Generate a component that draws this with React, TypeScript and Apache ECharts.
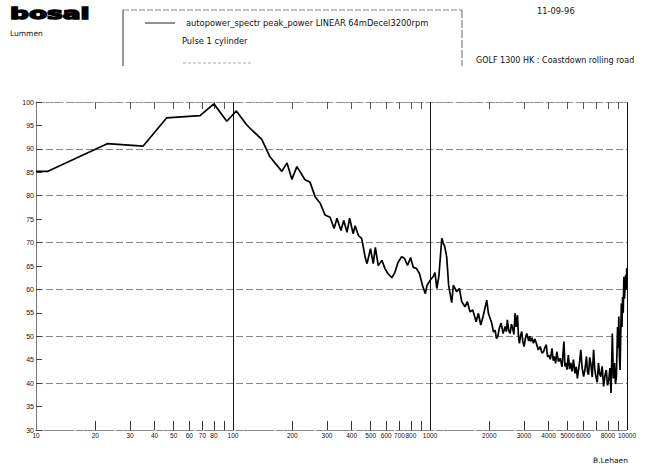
import React, { useEffect, useRef } from "react";
import * as echarts from "echarts";

const freq = [
  10, 11.5, 23, 35, 46, 68, 80, 93, 104, 117, 122, 140, 154, 177, 188, 199, 211, 232, 246, 261,
  277, 293, 311, 326, 337, 353, 365, 379, 391, 407, 417, 433, 450, 469, 479, 499, 515, 528, 546, 570,
  590, 611, 640, 663, 687, 718, 743, 769, 797, 823, 853, 884, 917, 947, 965, 1000, 1036, 1060, 1083, 1109,
  1148, 1165, 1187, 1215, 1244, 1289, 1314, 1366, 1410, 1449, 1506, 1548, 1597, 1648, 1714, 1761, 1810, 1866, 1941, 1979,
  2058, 2100, 2140, 2175, 2208, 2250, 2296, 2350, 2408, 2440, 2470, 2510, 2551, 2590, 2629, 2665, 2704, 2740, 2781, 2810,
  2844, 2880, 2921, 2960, 3004, 3050, 3098, 3170, 3210, 3248, 3300, 3349, 3410, 3484, 3550, 3625, 3700, 3771, 3830, 3894,
  3950, 4003, 4080, 4165, 4220, 4277, 4340, 4403, 4490, 4579, 4680, 4784, 4840, 4893, 4960, 5038, 5110, 5183, 5260, 5348,
  5440, 5526, 5600, 5672, 5750, 5827, 5920, 6024, 6120, 6228, 6300, 6378, 6470, 6563, 6660, 6768, 6860, 6953, 7060, 7165,
  7260, 7362, 7480, 7609, 7730, 7851, 7960, 8082, 8190, 8297, 8360, 8424, 8530, 8641, 8740, 8829, 8900, 8957, 9020, 9088,
  9150, 9222, 9290, 9359, 9430, 9499, 9570, 9640, 9710, 9784, 9852, 9929, 9970, 10000,
];

const level = [
  85.2, 85.2, 91.1, 90.6, 96.6, 97.1, 99.6, 95.9, 98.1, 95.2, 94.4, 92.0, 88.3, 85.2, 87.0, 83.5, 86.2, 83.4, 82.9, 79.8,
  78.4, 75.9, 75.4, 73.0, 75.2, 72.6, 74.7, 72.2, 75.2, 71.9, 73.6, 71.5, 70.9, 66.8, 65.5, 68.7, 65.5, 69.0, 65.1, 66.2,
  64.5, 63.4, 62.5, 63.6, 65.7, 67.0, 66.6, 65.1, 66.8, 64.7, 64.5, 63.4, 60.8, 59.1, 60.8, 61.9, 62.7, 63.6, 60.2, 62.8,
  70.9, 70.0, 69.2, 67.0, 60.8, 57.2, 60.9, 59.5, 60.2, 57.4, 56.3, 57.4, 55.2, 55.6, 53.1, 54.9, 52.4, 54.5, 57.7, 54.9,
  52.8, 50.9, 51.3, 49.5, 49.9, 51.8, 52.8, 50.6, 52.1, 51.0, 53.5, 51.2, 50.6, 52.6, 51.7, 50.4, 54.9, 52.0, 54.5, 50.2,
  48.5, 50.1, 51.0, 48.9, 47.8, 49.6, 50.6, 49.0, 50.0, 48.9, 49.7, 48.5, 49.4, 48.2, 47.1, 47.8, 46.4, 46.7, 47.6, 48.2,
  45.6, 46.0, 45.1, 47.4, 44.8, 45.7, 44.2, 46.7, 44.6, 45.3, 43.5, 48.9, 43.6, 44.3, 42.9, 46.0, 43.0, 44.3, 42.5, 45.0,
  42.1, 43.5, 41.0, 42.8, 44.6, 47.1, 43.2, 41.4, 43.0, 45.7, 42.4, 41.8, 45.5, 43.9, 41.3, 47.1, 43.0, 41.4, 40.2, 44.3,
  42.0, 41.4, 43.6, 39.3, 41.6, 42.8, 39.5, 40.7, 43.2, 37.9, 44.0, 50.6, 41.0, 44.3, 39.8, 41.4, 47.0, 52.0, 47.5, 54.2,
  46.0, 42.8, 50.0, 57.0, 52.0, 58.4, 55.0, 62.7, 58.0, 60.6, 63.1, 59.9, 64.5, 63.5,
];

const xLabelValues = [10, 20, 30, 40, 50, 60, 70, 80, 100, 200, 300, 400, 500, 600, 700, 800, 1000, 2000, 3000, 4000, 5000, 6000, 8000, 9999.99];
const xMinorTicks = [20, 30, 40, 50, 60, 70, 80, 90, 200, 300, 400, 500, 600, 700, 800, 900, 2000, 3000, 4000, 5000, 6000, 7000, 8000, 9000];
const xMajorLines = [100, 1000, 9999.99];

const legendText = "autopower_spectr peak_power LINEAR 64mDecel3200rpm";
const subText = "Pulse 1 cylinder";
const dateText = "11-09-96";
const titleText = "GOLF 1300 HK : Coastdown rolling road";
const authorText = "B.Lehaen";

const FONT = "'DejaVu Sans', sans-serif";
const TICKFONT = "'Liberation Sans', Arial, sans-serif";

export default function App() {
  const ref = useRef<HTMLDivElement>(null);
  useEffect(() => {
    if (!ref.current) return;
    const chart = echarts.init(ref.current, undefined, { renderer: "svg" });
    const txt = (x: number, y: number, text: string, size = 8, extra: any = {}) => ({
      type: "text",
      x,
      y,
      ...extra,
      style: {
        text,
        fill: "#111",
        font: `${size}px ${FONT}`,
        textVerticalAlign: "middle",
        ...(extra.style || {}),
      },
    });
    const option: any = {
      animation: false,
      backgroundColor: "#fff",
      grid: { left: 36, right: 26, top: 102, bottom: 38, containLabel: false },
      xAxis: [
        {
          type: "log",
          logBase: 10,
          min: 10,
          max: 10000,
          position: "bottom",
          axisLine: { show: true, lineStyle: { color: "#888", width: 1, type: [6, 2] } },
          axisTick: { show: true, inside: true, length: 9, customValues: xMinorTicks, lineStyle: { color: "#333" } },
          axisLabel: {
            show: true,
            customValues: xLabelValues,
            fontSize: 6.5,
            margin: 2,
            color: "#111",
            fontFamily: TICKFONT,
            hideOverlap: false,
            formatter: (v: number) => String(Math.round(v)),
          },
          splitLine: { show: false },
        },
        {
          type: "log",
          logBase: 10,
          min: 10,
          max: 10000,
          position: "bottom",
          axisLine: { show: false },
          axisTick: { show: false, customValues: xMajorLines },
          axisLabel: { show: false },
          splitLine: { show: true, lineStyle: { color: "#111", width: 1 } },
        },
        {
          type: "log",
          logBase: 10,
          min: 10,
          max: 10000,
          position: "top",
          axisLine: { show: true, lineStyle: { color: "#999", width: 1, type: [3, 3] } },
          axisTick: { show: true, inside: true, length: 7, customValues: xMinorTicks, lineStyle: { color: "#555" } },
          axisLabel: { show: false },
          splitLine: { show: false },
        },
      ],
      yAxis: [
        {
          type: "value",
          min: 30,
          max: 100,
          interval: 5,
          axisLine: { show: true, lineStyle: { color: "#777", width: 1 } },
          axisTick: { show: true, inside: true, length: 6, lineStyle: { color: "#444" } },
          axisLabel: { fontSize: 7, margin: 2, color: "#111", fontFamily: TICKFONT },
          splitLine: { show: false },
        },
        {
          type: "value",
          min: 30,
          max: 100,
          interval: 10,
          axisLine: { show: false },
          axisTick: { show: false },
          axisLabel: { show: false },
          splitLine: { show: true, lineStyle: { color: "#888", width: 1, type: [7, 3] } },
        },
      ],
      series: [
        {
          type: "line",
          xAxisIndex: 0,
          yAxisIndex: 0,
          data: freq.map((f, i) => [f, level[i]]),
          symbol: "none",
          lineStyle: { color: "#000", width: 1.7 },
          z: 5,
        },
      ],
      graphic: [
        txt(10, 14, "bosal", 16, {
          scaleX: 1.65,
          style: { font: `bold 16px ${FONT}`, fill: "#000", stroke: "#000", lineWidth: 1.4 },
        }),
        txt(10, 33, "Lummen", 7.5),
        { type: "line", shape: { x1: 123, y1: 10, x2: 462, y2: 10 }, style: { stroke: "#888", lineWidth: 1, lineDash: [6, 2] } },
        { type: "line", shape: { x1: 123, y1: 10, x2: 123, y2: 66 }, style: { stroke: "#333", lineWidth: 1 } },
        { type: "line", shape: { x1: 462, y1: 10, x2: 462, y2: 66 }, style: { stroke: "#666", lineWidth: 1, lineDash: [8, 2] } },
        { type: "line", shape: { x1: 145, y1: 23, x2: 175, y2: 23 }, style: { stroke: "#222", lineWidth: 1 } },
        txt(186, 23, legendText, 8.3),
        txt(182, 41, subText, 8.3),
        { type: "line", shape: { x1: 183, y1: 63, x2: 253, y2: 63 }, style: { stroke: "#aaa", lineWidth: 1, lineDash: [3, 2] } },
        txt(537, 11, dateText, 8.3),
        txt(476, 60, titleText, 8),
        txt(593, 460, authorText, 7.5),
      ],
    };
    chart.setOption(option);
    return () => chart.dispose();
  }, []);
  return <div ref={ref} style={{ position: "fixed", left: 0, top: 0, width: 653, height: 468 }} />;
}
